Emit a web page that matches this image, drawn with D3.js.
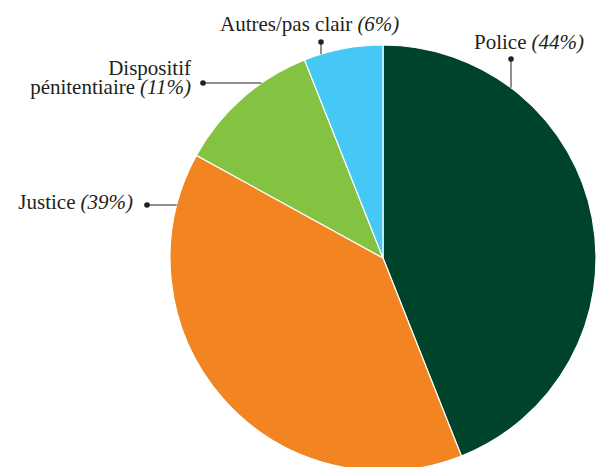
<!DOCTYPE html>
<html>
<head>
<meta charset="utf-8">
<script src="https://cdn.jsdelivr.net/npm/d3@7"></script>
</head>
<body style="margin:0;background:#fff">
<svg id="pie-acteurs" width="596" height="467"></svg>
<script>
// Répartition par acteur (en %)
const categories = ["Police", "Justice", "Dispositif pénitentiaire", "Autres/pas clair"];
const values = [44, 39, 11, 6];
const colors = ["#00432b", "#f28522", "#84c341", "#45c8f5"];

// Text rows of each slice label: [roman part, italic part]
const labelRows = [
  [["Police", "(44%)"]],
  [["Justice", "(39%)"]],
  [["Dispositif", ""], ["pénitentiaire", "(11%)"]],
  [["Autres/pas clair", "(6%)"]]
];

const FONT = "Liberation Serif";
const FONT_SIZE = 21;
const INK = "#231f20";

const svg = d3.select("#pie-acteurs");
const cx = 383, cy = 258, r = 213;

const data = categories.map((c, i) => ({ name: c, value: values[i], color: colors[i], rows: labelRows[i] }));

const pie = d3.pie().value(d => d.value).sort(null);
const arc = d3.arc().innerRadius(0).outerRadius(r);
const arcs = pie(data);

const g = svg.append("g").attr("transform", `translate(${cx},${cy})`);

g.selectAll("path.slice")
  .data(arcs)
  .join("path")
  .attr("class", "slice")
  .attr("d", arc)
  .attr("fill", d => d.data.color)
  .attr("stroke", "#fff")
  .attr("stroke-width", 1.2);

// Leader dot position, leader direction and text placement per slice
const layout = [
  { dot: [511, 59], dir: "v", text: { x: 474, y: 49, anchor: "start" } },
  { dot: [147, 205], dir: "h", text: { x: 133, y: 209, anchor: "end" } },
  { dot: [203, 83], dir: "h", text: { x: 191, y: 75, anchor: "end", lh: 19 } },
  { dot: [321, 42], dir: "v", text: { x: 220, y: 31, anchor: "start" } }
];

function word(x, y, str, italic) {
  return svg.append("text")
    .attr("x", x)
    .attr("y", y)
    .attr("font-family", FONT)
    .attr("font-size", FONT_SIZE)
    .attr("font-style", italic ? "italic" : "normal")
    .style("font-family", FONT, "important")
    .style("font-size", FONT_SIZE + "px", "important")
    .style("font-style", italic ? "italic" : "normal", "important")
    .attr("fill", INK)
    .text(str);
}

const GAP = 5;

arcs.forEach((a, i) => {
  const L = layout[i];
  const dx = L.dot[0] - cx, dy = L.dot[1] - cy;
  // leader ends where it meets the rim
  let ex, ey;
  if (L.dir === "v") {
    ex = dx;
    ey = -Math.sqrt(r * r - dx * dx);
  } else {
    ey = dy;
    ex = -Math.sqrt(r * r - dy * dy);
  }
  g.append("line")
    .attr("x1", dx).attr("y1", dy)
    .attr("x2", ex).attr("y2", ey)
    .attr("stroke", INK)
    .attr("stroke-width", 1);
  g.append("circle")
    .attr("cx", dx).attr("cy", dy)
    .attr("r", 2.8)
    .attr("fill", INK);

  a.data.rows.forEach((row, k) => {
    const y = L.text.y + k * (L.text.lh || 19);
    const roman = word(0, y, row[0], false);
    const wR = roman.node().getComputedTextLength();
    let italic = null, wI = 0;
    if (row[1]) {
      italic = word(0, y, row[1], true);
      wI = italic.node().getComputedTextLength();
    }
    const total = wR + (italic ? GAP + wI : 0);
    const x0 = L.text.anchor === "end" ? L.text.x - total : L.text.x;
    roman.attr("x", x0);
    if (italic) italic.attr("x", x0 + wR + GAP);
  });
});
</script>
</body>
</html>
